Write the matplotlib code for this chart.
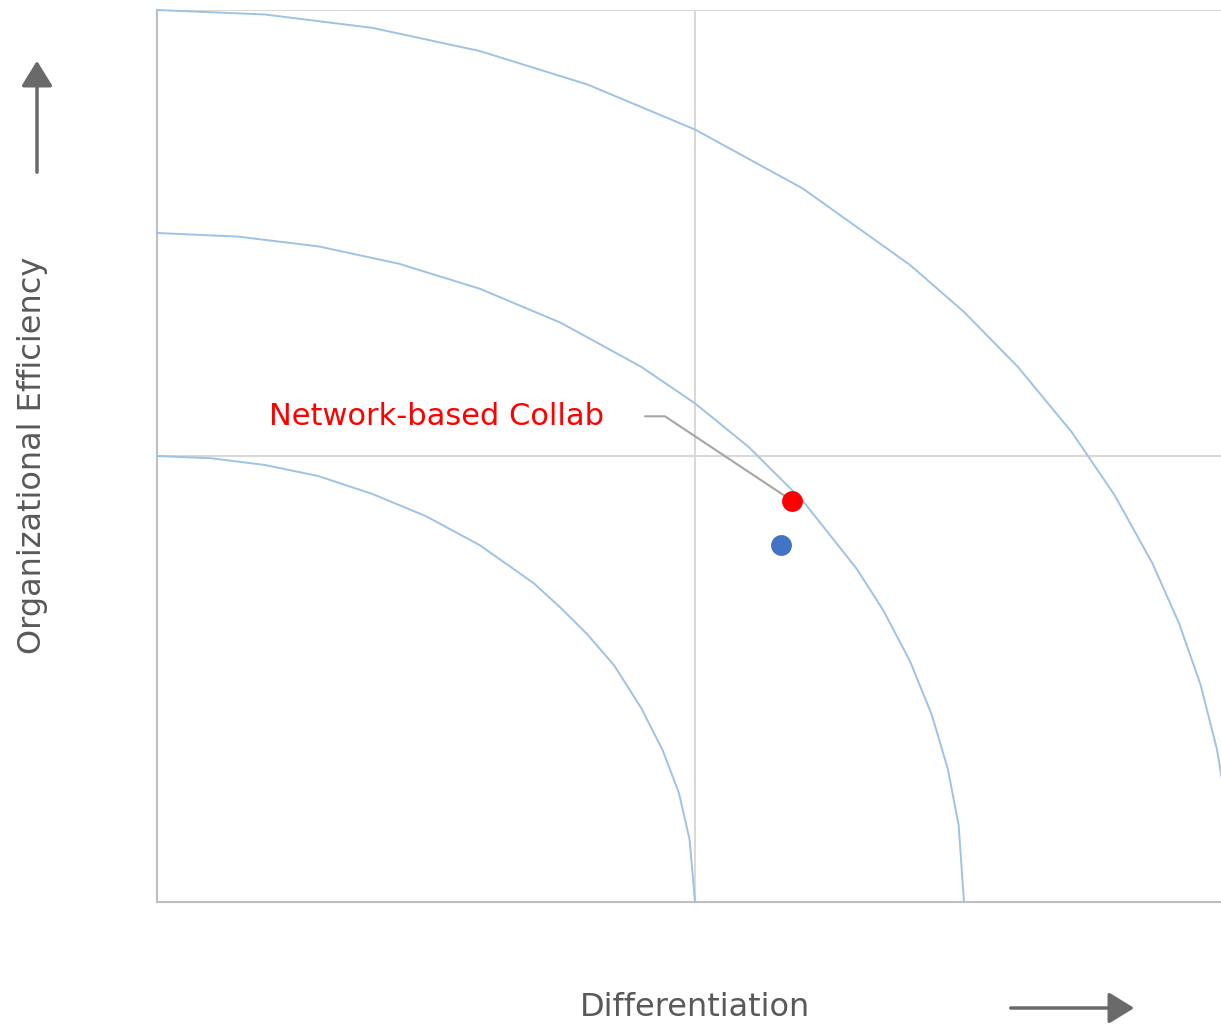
import matplotlib.pyplot as plt
from matplotlib.patches import FancyArrowPatch

# Data
inner_x = [0, 0.1, 0.2, 0.3, 0.4, 0.5, 0.6, 0.7, 0.75, 0.8, 0.85, 0.9, 0.94, 0.97, 0.99, 1.0]
inner_y = [1.0, 0.995, 0.98, 0.955, 0.915, 0.865, 0.80, 0.715, 0.66, 0.60, 0.53, 0.435, 0.34, 0.245, 0.14, 0.0]

middle_x = [0, 0.15, 0.3, 0.45, 0.6, 0.75, 0.9, 1.0, 1.1, 1.2, 1.3, 1.35, 1.4, 1.44, 1.47, 1.49, 1.5]
middle_y = [1.5, 1.492, 1.47, 1.431, 1.375, 1.299, 1.2, 1.118, 1.02, 0.9, 0.748, 0.654, 0.539, 0.42, 0.298, 0.173, 0.0]

outer_x = [0, 0.2, 0.4, 0.6, 0.8, 1.0, 1.2, 1.4, 1.5, 1.6, 1.7, 1.78, 1.85, 1.9, 1.94, 1.97, 1.99, 2.0]
outer_y = [2.0, 1.99, 1.96, 1.908, 1.833, 1.732, 1.6, 1.428, 1.323, 1.2, 1.054, 0.912, 0.76, 0.624, 0.486, 0.343, 0.2, 0.0]

collab_x, collab_y = [1.18], [0.90]
other_x, other_y = [1.16], [0.80]

label = "Network-based Collab"
label_pos = (0.52, 1.089)
leader_start = (0.907, 1.089)

fig = plt.figure(figsize=(12.21, 10.24), dpi=100)
ax = fig.add_axes([157 / 1221, 122 / 1024, 1076 / 1221, 892 / 1024])

for xs, ys in [(inner_x, inner_y), (middle_x, middle_y), (outer_x, outer_y)]:
    ax.plot(xs, ys, color="#9dc3e6", lw=1.4, zorder=3, clip_on=False,
            solid_joinstyle="round")

ax.plot(other_x, other_y, "o", color="#4472c4", ms=15, mec="none", zorder=4)
ax.plot(collab_x, collab_y, "o", color="#ff0000", ms=15, mec="none", zorder=4)

# label and leader line
ax.text(*label_pos, label, color="#ff0000", fontsize=22, ha="center", va="center")
ax.annotate("", xy=(collab_x[0], collab_y[0]), xytext=leader_start,
            arrowprops=dict(arrowstyle="-", color="#a6a6a6", lw=1.5,
                            connectionstyle="angle,angleA=0,angleB=146.4,rad=0",
                            shrinkA=0, shrinkB=0))

ax.set_xlim(0, 2)
ax.set_ylim(0, 2)
ax.set_xticks([1, 2])
ax.set_yticks([1, 2])
ax.grid(True, color="#d9d9d9", lw=1.5)
ax.tick_params(length=0, labelbottom=False, labelleft=False)
for s in ["top", "right"]:
    ax.spines[s].set_visible(False)
for s in ["left", "bottom"]:
    ax.spines[s].set_color("#bfbfbf")
    ax.spines[s].set_linewidth(1.5)

# axis titles with arrows
fig.text(33 / 1221, 1 - 455 / 1024, "Organizational Efficiency", rotation=90,
         ha="center", va="center", fontsize=23, color="#595959")
fig.text(695 / 1221, 1 - 1008 / 1024, "Differentiation",
         ha="center", va="center", fontsize=23, color="#595959")

for start, end in [((37, 175), (37, 58)), ((1008, 1008), (1137, 1008))]:
    fig.patches.append(FancyArrowPatch(
        (start[0] / 1221, 1 - start[1] / 1024), (end[0] / 1221, 1 - end[1] / 1024),
        transform=fig.transFigure, arrowstyle="-|>,head_length=1.3,head_width=0.8",
        mutation_scale=12, color="#6a6a6a", lw=2.5))

plt.savefig("out.png", dpi=100)
